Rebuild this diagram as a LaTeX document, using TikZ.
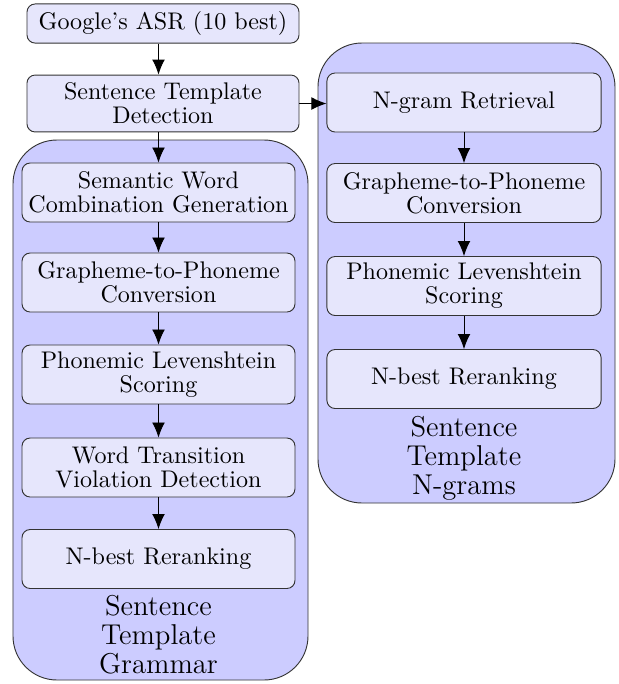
\documentclass[tikz,border=0pt]{standalone}
\usetikzlibrary{arrows.meta}

\definecolor{boxfill}{RGB}{230,230,252}
\definecolor{groupfill}{RGB}{204,204,255}

\begin{document}
\begin{tikzpicture}[x=0.4323pt,y=-0.4323pt,
    stage/.style={draw=black!80, fill=boxfill, rounded corners=3.5pt, align=center,
      inner sep=0pt, minimum width=118pt, minimum height=25.5pt,
      font=\fontsize{10.4}{10.4}\selectfont},
    group/.style={draw=black!80, fill=groupfill, rounded corners=19pt},
    grouplabel/.style={align=center, font=\fontsize{12.4}{12.6}\selectfont},
    arr/.style={-{Latex[length=6.5pt,width=5.5pt]}}]
  \useasboundingbox (0,0) rectangle (619,684);

  % Contenedores
  \draw [group] (13,140) rectangle (308,680);
  \draw [group] (318,43) rectangle (615,503);

  % Entrada
  \node [stage, minimum width=117.6pt, minimum height=16.9pt] (asr) at (163,23.5) {Google's ASR (10 best)};
  \node [stage, minimum width=117.6pt, minimum height=24.6pt] (detect) at (163,103.5) {Sentence Template\\Detection};

  % Gramatica
  \node [stage] (sem) at (158.5,192.5) {Semantic Word\\Combination Generation};
  \node [stage] (gtpl) at (158.5,282.5) {Grapheme-to-Phoneme\\Conversion};
  \node [stage] (levl) at (158.5,374.5) {Phonemic Levenshtein\\Scoring};
  \node [stage] (wtv) at (158.5,467.5) {Word Transition\\Violation Detection};
  \node [stage] (rerl) at (158.5,559) {N-best Reranking};
  \node [grouplabel] (gram) at (158.5,635) {Sentence\\Template\\Grammar};

  % N-gramas
  \node [stage, minimum width=118.5pt] (ngram) at (464,102.5) {N-gram Retrieval};
  \node [stage, minimum width=118.5pt] (gtpr) at (464,193) {Grapheme-to-Phoneme\\Conversion};
  \node [stage, minimum width=118.5pt] (levr) at (464,286) {Phonemic Levenshtein\\Scoring};
  \node [stage, minimum width=118.5pt] (rerr) at (464,379) {N-best Reranking};
  \node [grouplabel] (ngr) at (464,458) {Sentence\\Template\\N-grams};

  % Flechas
  \draw [arr] (asr.south -| sem.north) -- (detect.north -| sem.north);
  \draw [arr] (detect.south -| sem.north) -- (sem.north);
  \draw [arr] (detect.east) -- (detect.east -| ngram.west);
  \draw [arr] (sem) -- (gtpl);
  \draw [arr] (gtpl) -- (levl);
  \draw [arr] (levl) -- (wtv);
  \draw [arr] (wtv) -- (rerl);
  \draw [arr] (ngram) -- (gtpr);
  \draw [arr] (gtpr) -- (levr);
  \draw [arr] (levr) -- (rerr);
\end{tikzpicture}
\end{document}
